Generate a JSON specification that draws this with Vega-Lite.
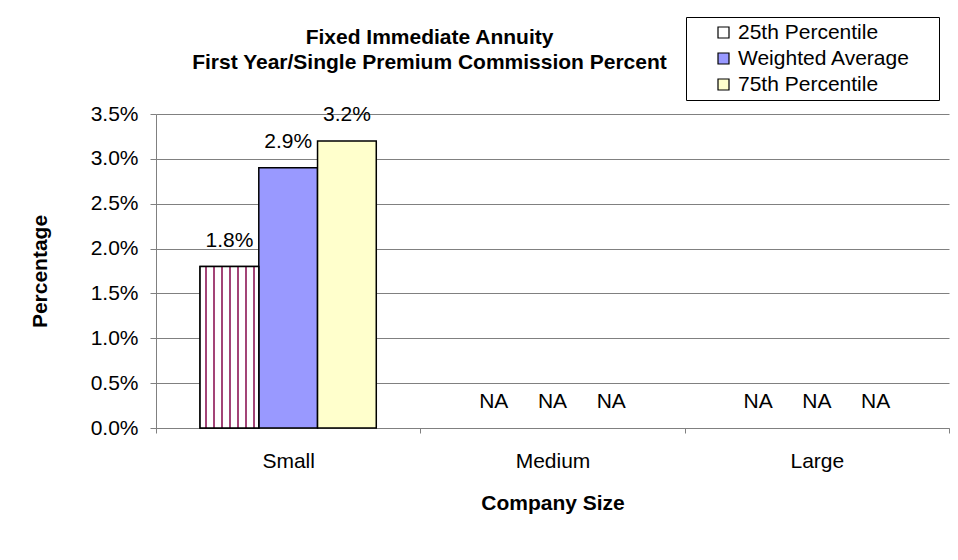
{
  "$schema": "https://vega.github.io/schema/vega-lite/v6.json",
  "width": 793,
  "height": 314,
  "autosize": "none",
  "padding": {"left": 156, "top": 114, "right": 9, "bottom": 132},
  "background": "white",
  "config": {
    "font": "Liberation Sans",
    "view": {"stroke": null},
    "axis": {"labelFont": "Liberation Sans", "titleFont": "Liberation Sans", "labelColor": "black", "titleColor": "black"},
    "legend": {"labelFont": "Liberation Sans"}
  },
  "title": {
    "text": ["Fixed Immediate Annuity", "First Year/Single Premium Commission Percent"],
    "font": "Liberation Sans",
    "fontSize": 21,
    "fontWeight": "bold",
    "color": "black",
    "anchor": "middle",
    "frame": "group",
    "dx": -123,
    "offset": -56,
    "lineHeight": 25
  },
  "data": {
    "values": [
      {"size": "Small", "series": "25th Percentile", "value": 0.018, "label": "1.8%"},
      {"size": "Small", "series": "Weighted Average", "value": 0.029, "label": "2.9%"},
      {"size": "Small", "series": "75th Percentile", "value": 0.032, "label": "3.2%"},
      {"size": "Medium", "series": "25th Percentile", "value": null, "label": "NA"},
      {"size": "Medium", "series": "Weighted Average", "value": null, "label": "NA"},
      {"size": "Medium", "series": "75th Percentile", "value": null, "label": "NA"},
      {"size": "Large", "series": "25th Percentile", "value": null, "label": "NA"},
      {"size": "Large", "series": "Weighted Average", "value": null, "label": "NA"},
      {"size": "Large", "series": "75th Percentile", "value": null, "label": "NA"}
    ]
  },
  "encoding": {
    "x": {
      "field": "size",
      "type": "nominal",
      "sort": ["Small", "Medium", "Large"],
      "scale": {"paddingInner": 0, "paddingOuter": 0},
      "axis": {
        "title": "Company Size",
        "titleFontSize": 21,
        "titleFontWeight": "bold",
        "titleY": 75,
        "titleBaseline": "middle",
        "labelFontSize": 21,
        "labelAngle": 0,
        "labelPadding": 17,
        "tickBand": "extent",
        "tickSize": 5,
        "tickColor": "#808080",
        "domainColor": "#808080",
        "grid": false
      }
    },
    "xOffset": {
      "field": "series",
      "type": "nominal",
      "sort": ["25th Percentile", "Weighted Average", "75th Percentile"],
      "scale": {"paddingInner": 0, "paddingOuter": 0.75}
    }
  },
  "layer": [
    {
      "mark": {"type": "bar", "stroke": "black", "strokeWidth": 1.5},
      "encoding": {
        "y": {
          "field": "value",
          "type": "quantitative",
          "scale": {"domain": [0, 0.035], "nice": false},
          "axis": {
            "title": "Percentage",
            "titleFontSize": 21,
            "titleFontWeight": "bold",
            "titleX": -116,
            "titleY": 157,
            "titleBaseline": "middle",
            "values": [0, 0.005, 0.01, 0.015, 0.02, 0.025, 0.03, 0.035],
            "format": ".1%",
            "labelFontSize": 21,
            "labelPadding": 12,
            "tickSize": 6,
            "tickColor": "#808080",
            "domainColor": "#808080",
            "grid": true,
            "gridColor": "#808080",
            "gridWidth": 1
          }
        },
        "color": {
          "field": "series",
          "type": "nominal",
          "scale": {
            "domain": ["25th Percentile", "Weighted Average", "75th Percentile"],
            "range": ["#ffffff", "#9999FF", "#FFFFCC"]
          },
          "legend": {
            "title": "\u00a0",
            "titleOrient": "right",
            "titlePadding": 24,
            "titleFontSize": 4,
            "orient": "none",
            "legendX": 530,
            "legendY": -97,
            "direction": "vertical",
            "padding": 5,
            "rowPadding": 4,
            "strokeColor": "#000000",
            "fillColor": "#ffffff",
            "symbolType": "square",
            "symbolSize": 121,
            "symbolStrokeColor": "#000000",
            "symbolStrokeWidth": 1.2,
            "symbolOffset": 22,
            "labelOffset": 4,
            "labelFontSize": 21,
            "labelLimit": 400,
            "labelColor": "black"
          }
        }
      }
    },
    {
      "transform": [{"filter": "datum.series == '25th Percentile' && datum.value != null"}],
      "mark": {
        "type": "bar",
        "stroke": "black",
        "strokeWidth": 1.5,
        "fill": {"gradient": "linear", "x1": 0, "y1": 0, "x2": 1, "y2": 0, "stops": [
          {"offset": 0, "color": "#ffffff"},
          {"offset": 0.083, "color": "#ffffff"}, {"offset": 0.083, "color": "#a34477"}, {"offset": 0.117, "color": "#a34477"}, {"offset": 0.117, "color": "#ffffff"},
          {"offset": 0.223, "color": "#ffffff"}, {"offset": 0.223, "color": "#a34477"}, {"offset": 0.257, "color": "#a34477"}, {"offset": 0.257, "color": "#ffffff"},
          {"offset": 0.353, "color": "#ffffff"}, {"offset": 0.353, "color": "#a34477"}, {"offset": 0.387, "color": "#a34477"}, {"offset": 0.387, "color": "#ffffff"},
          {"offset": 0.493, "color": "#ffffff"}, {"offset": 0.493, "color": "#a34477"}, {"offset": 0.527, "color": "#a34477"}, {"offset": 0.527, "color": "#ffffff"},
          {"offset": 0.633, "color": "#ffffff"}, {"offset": 0.633, "color": "#a34477"}, {"offset": 0.667, "color": "#a34477"}, {"offset": 0.667, "color": "#ffffff"},
          {"offset": 0.763, "color": "#ffffff"}, {"offset": 0.763, "color": "#a34477"}, {"offset": 0.797, "color": "#a34477"}, {"offset": 0.797, "color": "#ffffff"},
          {"offset": 0.893, "color": "#ffffff"}, {"offset": 0.893, "color": "#a34477"}, {"offset": 0.927, "color": "#a34477"}, {"offset": 0.927, "color": "#ffffff"},
          {"offset": 1, "color": "#ffffff"}
        ]}
      },
      "encoding": {
        "y": {"field": "value", "type": "quantitative"}
      }
    },
    {
      "transform": [{"filter": "datum.value != null"}],
      "mark": {"type": "text", "fontSize": 21, "color": "black", "baseline": "alphabetic", "dy": -20},
      "encoding": {
        "y": {"field": "value", "type": "quantitative"},
        "text": {"field": "label"}
      }
    },
    {
      "transform": [{"filter": "datum.value == null"}],
      "mark": {"type": "text", "fontSize": 21, "color": "black", "baseline": "alphabetic", "dy": -20},
      "encoding": {
        "y": {"datum": 0, "type": "quantitative"},
        "text": {"field": "label"}
      }
    }
  ]
}
